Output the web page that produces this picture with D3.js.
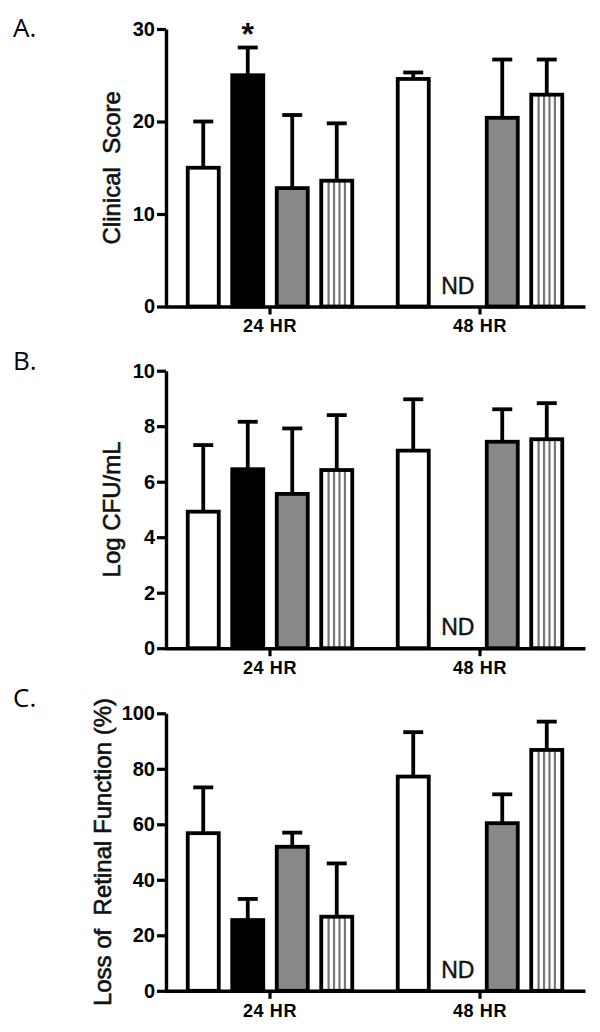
<!DOCTYPE html>
<html>
<head>
<meta charset="utf-8">
<script src="https://cdn.jsdelivr.net/npm/d3@7"></script>
<style>
  html, body { margin: 0; padding: 0; background: #fff; }
  svg { display: block; }
</style>
</head>
<body>
<svg id="chart" width="600" height="1032"></svg>
<script>
// ---- Data ----
const groups = ["24 HR", "48 HR"];
const series = ["s1", "s2", "s3", "s4"]; // white, black, gray, striped

// Panel A: Clinical Score (mean, upper SD); null = ND
const clinicalMean24 = [15.0, 25.0, 12.8, 13.6];
const clinicalErr24  = [5.0, 3.0, 7.9, 6.2];
const clinicalMean48 = [24.6, null, 20.4, 22.9];
const clinicalErr48  = [0.7, null, 6.3, 3.8];
const clinicalTicks  = [0, 10, 20, 30];

// Panel B: Log CFU/mL
const cfuMean24 = [4.92, 6.45, 5.56, 6.42];
const cfuErr24  = [2.40, 1.71, 2.36, 1.98];
const cfuMean48 = [7.12, null, 7.44, 7.53];
const cfuErr48  = [1.85, null, 1.17, 1.30];
const cfuTicks  = [0, 2, 4, 6, 8, 10];

// Panel C: Loss of Retinal Function (%)
const retMean24 = [56.8, 25.5, 51.9, 26.7];
const retErr24  = [16.5, 7.6, 5.1, 19.2];
const retMean48 = [77.2, null, 60.4, 86.8];
const retErr48  = [16.0, null, 10.4, 10.2];
const retTicks  = [0, 20, 40, 60, 80, 100];

const panelLabels = ["A.", "B.", "C."];
const yTitles = ["Clinical  Score", "Log CFU/mL", "Loss of  Retinal Function (%)"];
const ndLabel = "ND";
const sigLabel = "*";

// ---- Build panel tables ----
function buildRows(m24, e24, m48, e48) {
  const rows = [];
  series.forEach((s, i) => {
    rows.push({group: groups[0], series: s, mean: m24[i], err: e24[i]});
    rows.push({group: groups[1], series: s, mean: m48[i], err: e48[i]});
  });
  return rows;
}
const panels = [
  {rows: buildRows(clinicalMean24, clinicalErr24, clinicalMean48, clinicalErr48), ticks: clinicalTicks, max: 30,
   top: 29, labelY: 37, titleX: 120, sig: {group: "24 HR", series: "s2"}},
  {rows: buildRows(cfuMean24, cfuErr24, cfuMean48, cfuErr48), ticks: cfuTicks, max: 10,
   top: 370.7, labelY: 370, titleX: 120},
  {rows: buildRows(retMean24, retErr24, retMean48, retErr48), ticks: retTicks, max: 100,
   top: 713.3, labelY: 707, titleX: 111}
];

// ---- Layout ----
const plotH = 277.5;
const x0 = d3.scaleBand().domain(groups).range([165, 585]).paddingInner(0.15).paddingOuter(0.075);
const x1 = d3.scaleBand().domain(series).range([0, x0.bandwidth()]).paddingInner(0.303).paddingOuter(0.157);
const fills = {s1: "#ffffff", s2: "#000000", s3: "#888888", s4: "#ffffff"};
const strokeW = 3.8;

const svg = d3.select("#chart");
svg.append("rect").attr("width", 600).attr("height", 1032).attr("fill", "#fff");

panels.forEach((p, pi) => {
  const g = svg.append("g").attr("transform", `translate(0,${p.top})`);
  const y = d3.scaleLinear().domain([0, p.max]).range([plotH, 0]);

  // panel label
  svg.append("text")
    .attr("x", 13).attr("y", p.labelY)
    .attr("font-family", "'Open Sans', 'Noto Sans', sans-serif")
    .attr("font-size", 26).attr("fill", "#000")
    .text(panelLabels[pi]);

  // y title
  g.append("text")
    .attr("transform", `translate(${p.titleX},${plotH / 2}) rotate(-90)`)
    .attr("text-anchor", "middle")
    .attr("font-family", "'Liberation Sans', Arial, sans-serif")
    .attr("font-size", 24).attr("fill", "#111")
    .attr("stroke", "#111").attr("stroke-width", 0.6)
    .attr("xml:space", "preserve")
    .style("white-space", "pre")
    .text(yTitles[pi]);

  const present = p.rows.filter(d => d.mean != null);
  const bx = d => x0(d.group) + x1(d.series);
  const bw = x1.bandwidth();

  // error bars (upper only)
  const eb = g.append("g").attr("stroke", "#000").attr("stroke-width", strokeW);
  eb.selectAll("line.v").data(present).join("line")
    .attr("class", "v")
    .attr("x1", d => bx(d) + bw / 2).attr("x2", d => bx(d) + bw / 2)
    .attr("y1", d => y(d.mean)).attr("y2", d => y(d.mean + d.err));
  eb.selectAll("line.cap").data(present).join("line")
    .attr("class", "cap")
    .attr("x1", d => bx(d) + bw / 2 - 10).attr("x2", d => bx(d) + bw / 2 + 10)
    .attr("y1", d => y(d.mean + d.err)).attr("y2", d => y(d.mean + d.err));

  // bars
  g.selectAll("rect.bar").data(present).join("rect")
    .attr("class", "bar")
    .attr("x", d => bx(d)).attr("width", bw)
    .attr("y", d => y(d.mean)).attr("height", d => y(0) - y(d.mean))
    .attr("fill", d => fills[d.series]);

  // stripes for s4
  const striped = present.filter(d => d.series === "s4");
  striped.forEach(d => {
    const inner0 = bx(d) + strokeW / 2, inner1 = bx(d) + bw - strokeW / 2;
    const n = 4;
    for (let k = 1; k <= n; k++) {
      const xx = inner0 + (inner1 - inner0) * k / (n + 1);
      g.append("line")
        .attr("x1", xx).attr("x2", xx)
        .attr("y1", y(d.mean)).attr("y2", y(0))
        .attr("stroke", "#777").attr("stroke-width", 2.2);
    }
  });

  // bar outlines on top
  g.selectAll("rect.outline").data(present).join("rect")
    .attr("class", "outline")
    .attr("x", d => bx(d)).attr("width", bw)
    .attr("y", d => y(d.mean)).attr("height", d => y(0) - y(d.mean))
    .attr("fill", "none").attr("stroke", "#000").attr("stroke-width", strokeW);

  // ND labels
  const missing = p.rows.filter(d => d.mean == null);
  g.selectAll("text.nd").data(missing).join("text")
    .attr("class", "nd")
    .attr("x", d => bx(d) + bw / 2).attr("y", y(0) - 13)
    .attr("text-anchor", "middle")
    .attr("font-family", "'Liberation Sans', Arial, sans-serif")
    .attr("font-size", 23).attr("fill", "#111")
    .attr("stroke", "#111").attr("stroke-width", 0.4)
    .text(ndLabel);

  // significance
  if (p.sig) {
    const d = p.rows.find(r => r.group === p.sig.group && r.series === p.sig.series);
    g.append("text")
      .attr("x", bx(d) + bw / 2).attr("y", y(d.mean + d.err) - 3)
      .attr("text-anchor", "middle")
      .attr("font-family", "'Liberation Sans', Arial, sans-serif")
      .attr("font-weight", "bold").attr("font-size", 32)
      .text(sigLabel);
  }

  // axes
  const yAxis = d3.axisLeft(y).tickValues(p.ticks).tickSize(9).tickSizeOuter(0).tickPadding(2);
  const ya = g.append("g").attr("transform", "translate(166,0)").call(yAxis);
  const xAxis = d3.axisBottom(x0).tickSize(8).tickSizeOuter(0).tickPadding(5);
  const xa = g.append("g").attr("transform", `translate(0,${plotH})`).call(xAxis);
  [ya, xa].forEach(a => {
    a.select(".domain").attr("stroke", "#000").attr("stroke-width", 3.4);
    a.selectAll(".tick line").attr("stroke", "#000").attr("stroke-width", 3.2);
    a.selectAll(".tick text").attr("fill", "#000")
      .attr("font-family", "'Liberation Sans', Arial, sans-serif")
      .attr("font-weight", "bold");
  });
  ya.selectAll(".tick text").attr("font-size", 20);
  xa.selectAll(".tick text").attr("font-size", 18).style("letter-spacing", "0.6px");
});
</script>
</body>
</html>
